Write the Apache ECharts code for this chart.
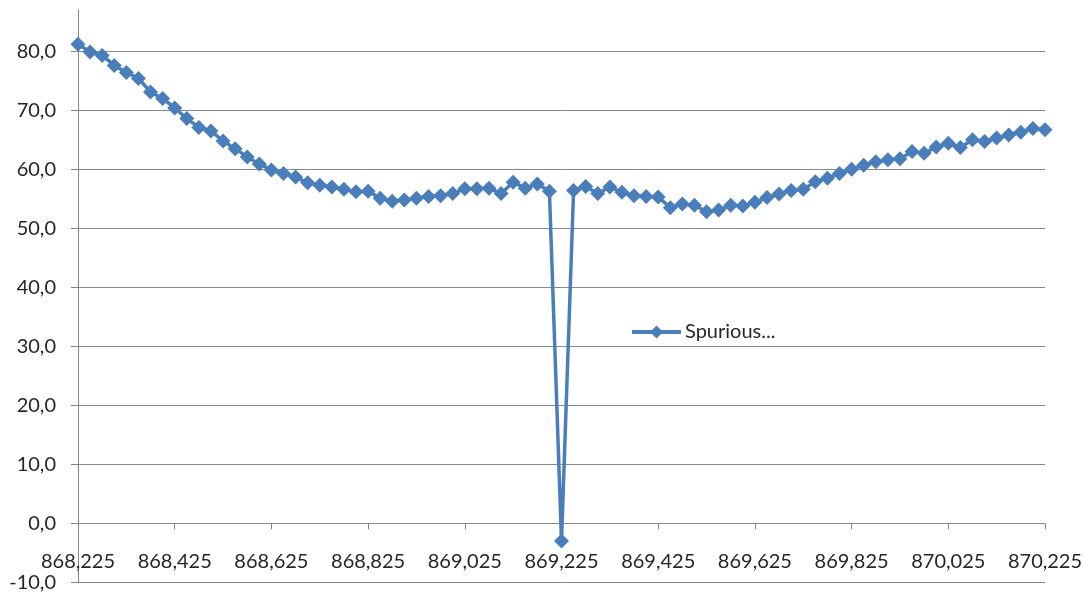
<!DOCTYPE html>
<html>
<head>
<meta charset="utf-8">
<script src="https://cdn.jsdelivr.net/npm/echarts@6/dist/echarts.min.js"></script>
<style>
  html, body { margin: 0; padding: 0; background: #fff; }
  #chart { width: 1091px; height: 594px; }
</style>
</head>
<body>
<div id="chart"></div>
<script>
// frequencies (MHz) on the x axis
const freqs = [
  868.225, 868.250, 868.275, 868.300, 868.325, 868.350, 868.375, 868.400, 868.425,
  868.450, 868.475, 868.500, 868.525, 868.550, 868.575, 868.600, 868.625,
  868.650, 868.675, 868.700, 868.725, 868.750, 868.775, 868.800, 868.825,
  868.850, 868.875, 868.900, 868.925, 868.950, 868.975, 869.000, 869.025,
  869.050, 869.075, 869.100, 869.125, 869.150, 869.175, 869.200, 869.225,
  869.250, 869.275, 869.300, 869.325, 869.350, 869.375, 869.400, 869.425,
  869.450, 869.475, 869.500, 869.525, 869.550, 869.575, 869.600, 869.625,
  869.650, 869.675, 869.700, 869.725, 869.750, 869.775, 869.800, 869.825,
  869.850, 869.875, 869.900, 869.925, 869.950, 869.975, 870.000, 870.025,
  870.050, 870.075, 870.100, 870.125, 870.150, 870.175, 870.200, 870.225
]

// measured spurious level
const spurious = [
  81.2, 79.9, 79.3, 77.6, 76.4, 75.4, 73.1, 72.0, 70.4,
  68.6, 67.1, 66.5, 64.8, 63.5, 62.1, 60.9, 59.9,
  59.3, 58.7, 57.7, 57.3, 57.0, 56.6, 56.2, 56.3,
  55.1, 54.6, 54.8, 55.1, 55.4, 55.5, 55.9, 56.7,
  56.7, 56.8, 55.9, 57.8, 56.8, 57.5, 56.3, -3.0,
  56.4, 57.1, 55.9, 57.0, 56.1, 55.5, 55.4, 55.3,
  53.5, 54.1, 53.9, 52.8, 53.1, 53.9, 53.8, 54.4,
  55.2, 55.8, 56.4, 56.6, 57.9, 58.5, 59.3, 60.0,
  60.7, 61.3, 61.6, 61.8, 63.0, 62.7, 63.8, 64.4,
  63.7, 65.0, 64.7, 65.3, 65.8, 66.3, 66.9, 66.7
]

const seriesName = 'Spurious...'
const yMin = -10
const yMax = 87
const yStep = 10
const labelEvery = 8

const comma = v => String(v).replace('.', ',')
const axisGrey = '#878787'
const textColor = '#262626'
const blue = '#4A7EBB'
const font = 'Lato, "Liberation Sans", sans-serif'

const chart = echarts.init(document.getElementById('chart'), null, { renderer: 'canvas' })

chart.setOption({
  animation: false,
  grid: {
    left: 78,
    right: 46,
    top: 10,
    bottom: 11.7,
    containLabel: false,
    outerBoundsMode: 'none'
  },
  legend: {
    left: 630,
    top: 322,
    padding: 0,
    itemWidth: 49,
    itemHeight: 16,
    itemGap: 0,
    lineStyle: { width: 4 },
    textStyle: {
      color: textColor,
      fontSize: 20,
      fontFamily: font,
      padding: [0, 0, 0, -1]
    },
    data: [seriesName]
  },
  xAxis: {
    type: 'category',
    boundaryGap: false,
    data: freqs.map(f => comma(f.toFixed(3))),
    axisLine: {
      onZero: true,
      lineStyle: { color: axisGrey, width: 1 }
    },
    axisTick: {
      show: true,
      interval: labelEvery - 1,
      length: 6,
      lineStyle: { color: axisGrey }
    },
    axisLabel: {
      interval: labelEvery - 1,
      margin: -31,
      color: textColor,
      fontSize: 20,
      fontFamily: font
    },
    splitLine: { show: false }
  },
  yAxis: {
    type: 'value',
    min: yMin,
    max: yMax,
    interval: yStep,
    axisLine: {
      show: true,
      lineStyle: { color: axisGrey, width: 1 }
    },
    axisTick: {
      show: true,
      length: 7,
      lineStyle: { color: axisGrey }
    },
    axisLabel: {
      margin: 22,
      showMaxLabel: false,
      color: textColor,
      fontSize: 20,
      fontFamily: font,
      formatter: v => comma(v.toFixed(1))
    },
    splitLine: {
      show: true,
      showMaxLine: false,
      lineStyle: { color: axisGrey, width: 1 }
    }
  },
  series: [
    {
      name: seriesName,
      type: 'line',
      data: spurious,
      symbol: 'diamond',
      symbolSize: 15,
      showAllSymbol: true,
      lineStyle: { color: blue, width: 3.5 },
      itemStyle: { color: blue },
      emphasis: { disabled: true }
    }
  ],
  color: [blue]
})
</script>
</body>
</html>
